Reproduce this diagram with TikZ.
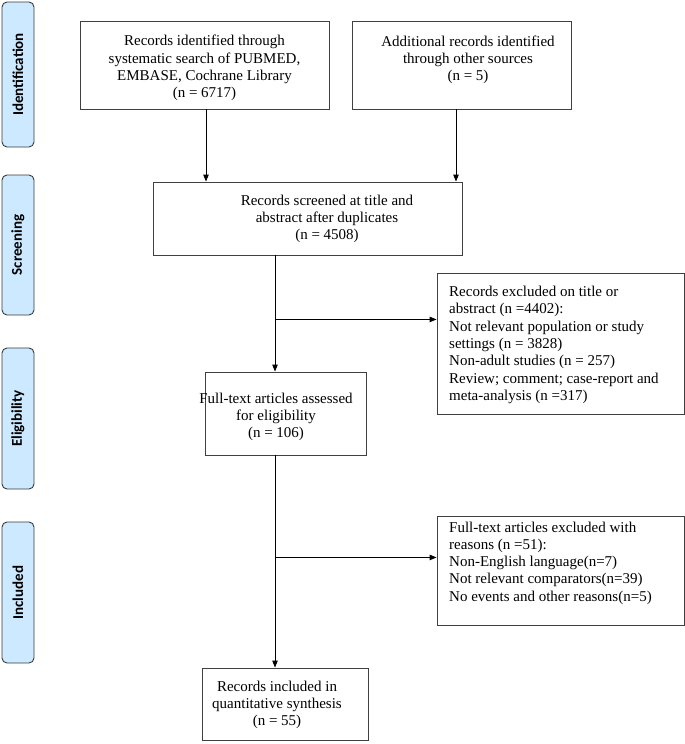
\documentclass[tikz,border=0pt]{standalone}
\usepackage{fontspec}
\setmainfont{Liberation Serif}
\newfontfamily\sidefont{Carlito}
\usetikzlibrary{arrows.meta,calc}
\definecolor{sideblue}{HTML}{CCE9FF}
\definecolor{sideedge}{HTML}{3A3A3A}
\definecolor{boxedge}{HTML}{404040}
\begin{document}
\begin{tikzpicture}[x=1pt,y=-1pt,
  box/.style={draw=boxedge,line width=0.9pt,inner sep=0pt,fill=white},
  side/.style={draw=sideedge,fill=sideblue,line width=0.9pt,rounded corners=5pt,
    rotate=90,minimum height=32pt,inner sep=0pt,
    font=\sidefont\bfseries\fontsize{15}{18}\selectfont},
  txt/.style={inner sep=0pt,align=center,font=\fontsize{15}{17.3}\selectfont},
  ltxt/.style={inner sep=0pt,align=left,anchor=west,font=\fontsize{15}{17.3}\selectfont},
  arr/.style={draw=black,line width=0.9pt,-{Triangle[length=7pt,width=5.5pt]}},
  ln/.style={draw=black,line width=0.9pt}]
\useasboundingbox (0,0) rectangle (685,744);

% side bars
\node[side,minimum width=145pt] (s1) at (18,74.5) {Identification};
\node[side,minimum width=140pt] (s2) at (18,245) {Screening};
\node[side,minimum width=141pt] (s3) at (18,418.5) {Eligibility};
\node[side,minimum width=141pt] (s4) at (18,592.5) {Included};

% boxes
\node[box,minimum width=249pt,minimum height=88pt] (b1) at (204.5,65) {};
\node[box,minimum width=219pt,minimum height=88pt] (b2) at (461.5,65) {};
\node[box,minimum width=309pt,minimum height=73pt] (scr) at (307.5,218.5) {};
\node[box,minimum width=247pt,minimum height=141pt] (ex1) at (560.5,343.5) {};
\node[box,minimum width=161pt,minimum height=83pt] (elig) at (285.5,413.5) {};
\node[box,minimum width=247pt,minimum height=109pt] (ex2) at (560.5,570.5) {};
\node[box,minimum width=166pt,minimum height=72pt] (fin) at (285,704) {};

% texts
\node[txt] (t1) at (204.5,68) {Records identified through\\systematic search of PUBMED,\\EMBASE, Cochrane Library\\(n = 6717)};
\node[txt] (t2) at (468,60) {Additional records identified\\through other sources\\(n = 5)};
\node[txt] (t3) at (327,219) {Records screened at title and\\abstract after duplicates\\(n = 4508)};
\node[ltxt] (t4) at (449,345) {Records excluded on title or\\abstract (n =4402):\\Not relevant population or study\\settings (n = 3828)\\Non-adult studies (n = 257)\\Review; comment; case-report and\\meta-analysis (n =317)};
\node[txt] (t5) at (276,417) {Full-text articles assessed\\for eligibility\\(n = 106)};
\node[ltxt] (t6) at (449,563) {Full-text articles excluded with\\reasons (n =51):\\Non-English language(n=7)\\Not relevant comparators(n=39)\\No events and other reasons(n=5)};
\node[txt] (t7) at (277,705) {Records included in\\quantitative synthesis\\(n = 55)};

% connectors
\coordinate (a1) at ([xshift=1.5pt]b1.south);
\coordinate (a2) at ([xshift=-5.5pt]b2.south);
\draw[arr] (a1) -- (a1 |- scr.north);
\draw[arr] (a2) -- (a2 |- scr.north);
\coordinate (c1) at ([xshift=-32.5pt]scr.south);
\draw[arr] (c1) -- (c1 |- elig.north);
\coordinate (j1) at ($(c1)+(0,64)$);
\draw[arr] (j1) -- (j1 -| ex1.west);
\coordinate (c2) at ([xshift=-10.5pt]elig.south);
\draw[arr] (c2) -- (c2 |- fin.north);
\coordinate (j2) at ($(c2)+(0,102)$);
\draw[arr] (j2) -- (j2 -| ex2.west);
\end{tikzpicture}
\end{document}
